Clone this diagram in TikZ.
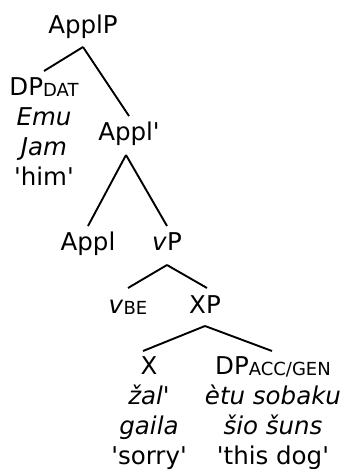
\documentclass[tikz,border=0pt]{standalone}
\usepackage{fontspec}
\newfontfamily\treefont{DejaVu Sans}
\newcommand\lsub[1]{\raisebox{-1.5pt}{\fontsize{18}{18}\selectfont #1}}

\begin{document}
\begin{tikzpicture}[x=1pt, y=-1pt, line width=1.9pt,
	lbl/.style={font=\treefont\fontsize{24.5}{30}\selectfont, align=center, anchor=base, inner sep=0pt}]
	\useasboundingbox (0,0) rectangle (349,472);
	% categories (multi-line nodes sit on their last line)
	\node[lbl] (applp) at (83,33) {ApplP};
	\node[lbl] (dpdat) at (44,185) {DP\lsub{DAT}\\\textit{Emu}\\\textit{Jam}\\'him'};
	\node[lbl] (applbar) at (129,140) {Appl'};
	\node[lbl] (appl) at (88,250) {Appl};
	\node[lbl] (vp) at (167,250) {\textit{v}P};
	\node[lbl] (vbe) at (128,313) {\textit{v}\lsub{BE}};
	\node[lbl] (xp) at (205,313) {XP};
	\node[lbl] (x) at (149,464) {X\\\textit{žal'}\\\textit{gaila}\\'sorry'};
	\node[lbl] (dpacc) at (273,464) {DP\lsub{ACC/GEN}\\\textit{ètu sobaku}\\\textit{šio šuns}\\'this dog'};
	% branches
	\draw ([yshift=-14pt]applp.base) -- ([yshift=114pt]dpdat.base);
	\draw ([yshift=-14pt]applp.base) -- ([yshift=24pt]applbar.base);
	\draw ([xshift=-3pt, yshift=-15pt]applbar.base) -- ([yshift=24pt]appl.base);
	\draw ([xshift=-3pt, yshift=-15pt]applbar.base) -- ([yshift=24pt]vp.base);
	\draw ([yshift=-15pt]vp.base) -- ([yshift=25pt]vbe.base);
	\draw ([yshift=-15pt]vp.base) -- ([xshift=2pt, yshift=25pt]xp.base);
	\draw ([yshift=-13pt]xp.base) -- ([xshift=-6pt, yshift=113pt]x.base);
	\draw ([yshift=-13pt]xp.base) -- ([xshift=-1pt, yshift=113pt]dpacc.base);
\end{tikzpicture}
\end{document}
